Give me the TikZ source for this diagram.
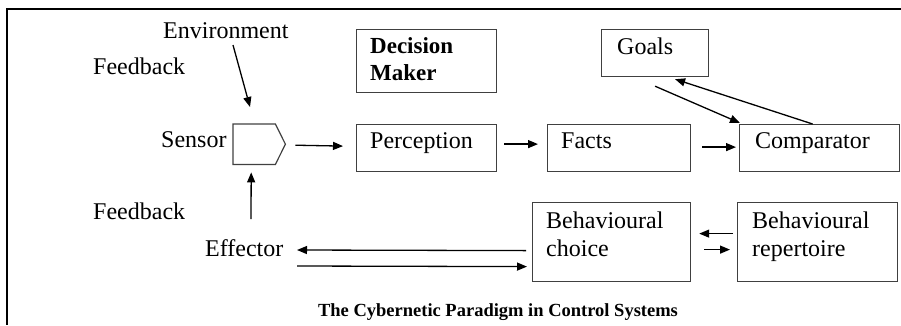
\documentclass[tikz,border=0pt]{standalone}
\usepackage{fontspec}
\setmainfont{Liberation Serif}[BoldFont={Liberation Serif Bold}]
\usetikzlibrary{arrows.meta,calc}
\begin{document}
\begin{tikzpicture}[x=1pt,y=-1pt,
  box/.style={draw=black!75,line width=1.2pt,inner sep=0pt,anchor=north west},
  lbl/.style={inner sep=0pt,anchor=base west,font=\rmfamily\fontsize{24}{27}\selectfont},
  blbl/.style={lbl,font=\rmfamily\bfseries\fontsize{23}{27}\selectfont},
  arr/.style={line width=1.3pt,-{Triangle[length=10pt,width=8pt]}}]
\useasboundingbox (0,0) rectangle (901,325);
% frame
\draw[line width=1.2pt] (901,9) -- (7,9) -- (7,325);

% boxes
\node[box,minimum width=140pt,minimum height=63pt] (dm)   at (356,29)  {};
\node[box,minimum width=107pt,minimum height=47pt] (goals) at (601,29) {};
\node[box,minimum width=140pt,minimum height=47pt] (perc) at (356,124) {};
\node[box,minimum width=143pt,minimum height=47pt] (facts) at (547,124) {};
\node[box,minimum width=160pt,minimum height=47pt] (comp) at (739,124) {};
\node[box,minimum width=158pt,minimum height=79pt] (choice) at (532,202) {};
\node[box,minimum width=160pt,minimum height=79pt] (rep) at (737,202) {};

% sensor shape
\node[inner sep=0pt,anchor=north west,minimum width=52pt,minimum height=40pt] (sensor) at (233,124) {};
\draw[draw=black!75,line width=1.2pt] (sensor.north west) -- ($(sensor.north east)+(-10,0)$)
  -- (sensor.east) -- ($(sensor.south east)+(-10,0)$) -- (sensor.south west) -- cycle;

% labels
\node[lbl] (env) at (163,38) {Environment};
\node[lbl] (fb1) at (93,74) {Feedback};
\node[lbl] (fb2) at (93,219) {Feedback};
\node[lbl] (sens) at (161,147) {Sensor};
\node[lbl] (eff) at (205,256) {Effector};
\node[blbl] (dmt) at (370,53) {Decision};
\node[blbl] (dmt2) at (370,80) {Maker};
\node[lbl] (goalst) at (617,54) {Goals};
\node[lbl] (perct) at (370,148) {Perception};
\node[lbl] (factst) at (561,148) {Facts};
\node[lbl] (compt) at (755,148) {Comparator};
\node[lbl] (ch1) at (546,228) {Behavioural};
\node[lbl] (ch2) at (546,256) {choice};
\node[lbl] (rp1) at (752,228) {Behavioural};
\node[lbl] (rp2) at (752,256) {repertoire};
\node[inner sep=0pt,anchor=base,font=\rmfamily\bfseries\fontsize{18.5}{21}\selectfont] (cap) at (498,316)
  {The Cybernetic Paradigm in Control Systems};

% connectors
\coordinate (envs) at (233,45);
\coordinate (envt) at (250,107);
\draw[arr] (envs) -- (envt);
\coordinate (effs) at (251,219);
\draw[arr] (effs) -- ($(sensor.south)+(-8,8)$);
\draw[arr] ($(sensor.east)+(10,1)$) -- ($(perc.west)+(-13,-2)$);
\draw[arr] ($(perc.east)+(7,-4)$) -- ($(facts.west)+(-9,-4)$);
\draw[arr] ($(facts.east)+(11,-1)$) -- ($(comp.west)+(-3,-1)$);
\draw[arr] ($(goals.south)+(0,9)$) -- ($(comp.north west)+(1,-1)$);
\draw[arr] ($(comp.north)+(-7,0)$) -- ($(goals.south)+(20,2)$);
\coordinate (effa) at (297,250);
\coordinate (effb) at (297,266);
\draw[arr] ($(choice.west)+(-6,8.5)$) -- (effa);
\draw[arr] (effb) -- ($(choice.west)+(-5,24.5)$);
\draw[arr] ($(rep.west)+(-4,-8.5)$) -- ($(choice.east)+(8,-8.5)$);
\draw[arr] ($(choice.east)+(13,7.5)$) -- ($(rep.west)+(-7,7.5)$);
\end{tikzpicture}
\end{document}
